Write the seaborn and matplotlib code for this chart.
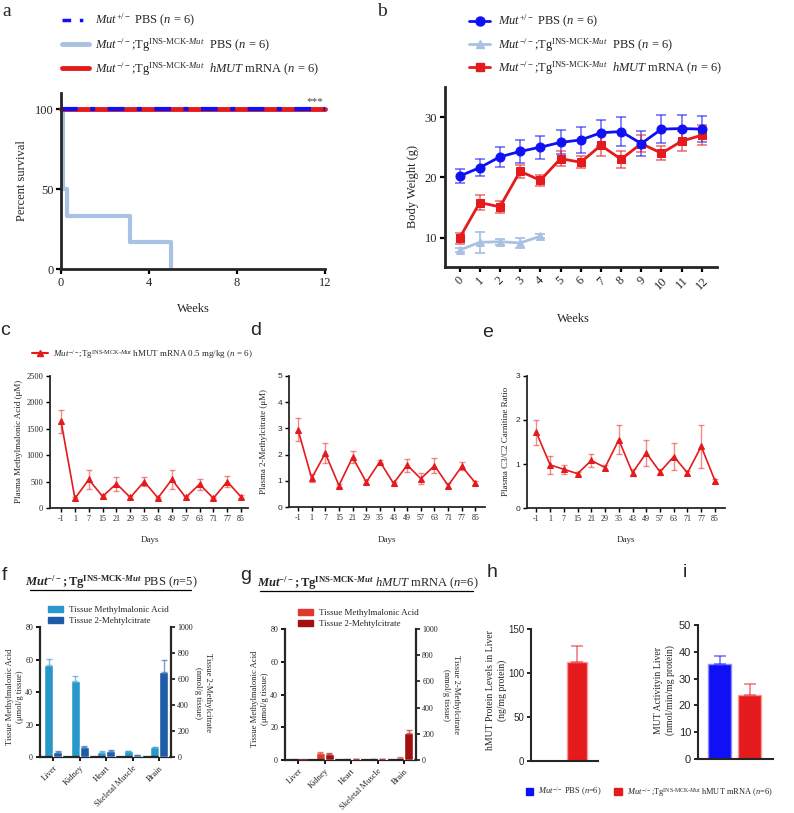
import numpy as np
import pandas as pd
import matplotlib
matplotlib.use('Agg')
import matplotlib.pyplot as plt
import seaborn as sns
from matplotlib.lines import Line2D
from matplotlib.patches import Patch
from matplotlib.transforms import Affine2D

sns.set_style('ticks')
plt.rcParams['font.family'] = ['Liberation Serif', 'DejaVu Serif']
plt.rcParams['mathtext.fontset'] = 'custom'
plt.rcParams['mathtext.rm'] = 'Liberation Serif'
plt.rcParams['mathtext.it'] = 'Liberation Serif:italic'
plt.rcParams['mathtext.bf'] = 'Liberation Serif:bold'
plt.rcParams['mathtext.bfit'] = 'Liberation Serif:italic:bold'

BLUE = '#1010f5'
RED = '#e41a1c'
LIGHTBLUE = '#a9c1e3'

# ---- data ----
# a: survival
surv_weeks = [0, 0.1, 0.25, 3.15, 5.0]
surv_ko_pbs = [100, 50, 33.3, 16.7, 0]
surv_full_weeks = [0, 12]
surv_full = [100, 100]

# b: body weight
bw_weeks = list(range(13))
bw_het = [20.2, 21.6, 23.4, 24.3, 25.0, 25.8, 26.2, 27.4, 27.6, 25.6, 28.0, 28.1, 28.0]
bw_het_err = [1.1, 1.4, 1.7, 1.9, 1.9, 2.0, 2.1, 2.2, 2.4, 2.1, 2.3, 2.2, 2.1]
bw_mrna = [9.9, 15.8, 15.1, 21.0, 19.5, 23.1, 22.5, 25.3, 23.0, 25.6, 24.0, 26.0, 27.0]
bw_mrna_err = [0.9, 1.2, 1.0, 1.1, 0.9, 1.2, 1.0, 1.7, 1.4, 1.4, 1.2, 1.7, 1.7]
bw_ko_weeks = [0, 1, 2, 3, 4]
bw_ko = [7.9, 9.2, 9.3, 9.1, 10.2]
bw_ko_err = [0.3, 1.7, 0.5, 0.8, 0.3]

# c-e: plasma markers
days = ['-1', '1', '7', '15', '21', '29', '35', '43', '49', '57', '63', '71', '77', '85']
mma_plasma = [1640, 180, 540, 220, 460, 200, 500, 190, 540, 200, 450, 185, 500, 210]
mma_plasma_err = [220, 20, 175, 30, 130, 25, 90, 20, 180, 25, 100, 20, 100, 30]
mc_plasma = [2.95, 1.1, 2.05, 0.82, 1.9, 0.95, 1.73, 0.9, 1.6, 1.08, 1.58, 0.82, 1.55, 0.92]
mc_plasma_err = [0.45, 0.15, 0.38, 0.05, 0.22, 0.07, 0.05, 0.05, 0.25, 0.22, 0.28, 0.08, 0.15, 0.08]
c3c2 = [1.72, 0.98, 0.88, 0.78, 1.08, 0.92, 1.55, 0.8, 1.25, 0.82, 1.17, 0.8, 1.4, 0.62]
c3c2_err = [0.28, 0.2, 0.1, 0.03, 0.15, 0.05, 0.33, 0.08, 0.3, 0.06, 0.3, 0.04, 0.48, 0.05]

# f-g: tissue levels
tissues = ['Liver', 'Kidney', 'Heart', 'Skeletal Muscle', 'Brain']
f_mma = [56.5, 47.0, 2.8, 3.5, 6.0]
f_mma_err = [3.8, 2.8, 0.6, 0.3, 0.3]
f_mc = [42, 80, 50, 12, 656]
f_mc_err = [5, 8, 6, 2, 90]
g_mma = [0.3, 4.5, 0.3, 0.5, 1.5]
g_mma_err = [0.1, 0.6, 0.1, 0.1, 0.3]
g_mc = [2, 45, 5, 8, 205]
g_mc_err = [1, 5, 1, 1, 25]

# h-i: liver protein and activity
groups = ['PBS', 'mRNA']
h_protein = [0, 113]
h_protein_err = [0, 18]
i_activity = [35.3, 23.7]
i_activity_err = [3.0, 4.1]

W, H = 794, 813
fig = plt.figure(figsize=(W / 100, H / 100), dpi=100)
PX = Affine2D().scale(1 / W, -1 / H).translate(0, 1) + fig.transFigure


def px_axes(left, top, right, bottom):
    return fig.add_axes([left / W, 1 - bottom / H, (right - left) / W, (bottom - top) / H])


def style(ax, lw=1.5, size=8, family='Liberation Serif', length=3.5):
    sns.despine(ax=ax)
    for s in ['left', 'bottom']:
        ax.spines[s].set_linewidth(lw)
    ax.tick_params(width=lw * 0.8, length=length, labelsize=size, color='black',
                   labelfontfamily=family, pad=2)


def ylab(ax, text, x, y, size, rot=90):
    ax.set_ylabel(text, fontsize=size, rotation=rot, linespacing=1.3)
    ax.yaxis.set_label_coords(x, y, transform=PX)


def xlab(ax, text, x, y, size):
    ax.set_xlabel(text, fontsize=size)
    ax.xaxis.set_label_coords(x, y, transform=PX)


def letter(ch, x, y, family='Liberation Sans'):
    fig.text(x, y, ch, transform=PX, fontsize=14, family=family, va='top', ha='left')


TG = r'$\it{Mut}^{-/-}$;Tg$^{\mathrm{INS‐MCK‐}\it{Mut}}$'
LBL_HET = r'$\it{Mut}^{+/-}$ PBS ($\it{n}$ = 6)'
LBL_KO = TG + r'  PBS ($\it{n}$ = 6)'
LBL_MRNA = TG + r'  $\it{hMUT}$ mRNA ($\it{n}$ = 6)'

# ---- a ----
ax = px_axes(61, 93, 325, 269)
sns.lineplot(x=surv_weeks, y=surv_ko_pbs, ax=ax, color=LIGHTBLUE, lw=3,
             drawstyle='steps-post', estimator=None, sort=False)
sns.lineplot(x=surv_full_weeks, y=surv_full, ax=ax, color=RED, lw=3.5,
             estimator=None, clip_on=False)
sns.lineplot(x=surv_full_weeks, y=surv_full, ax=ax, color=BLUE, lw=3,
             linestyle=(0, (4, 3, 1.2, 3)), estimator=None, clip_on=False)
ax.set_xlim(0, 12)
ax.set_ylim(0, 110)
ax.set_xticks([0, 4, 8, 12])
ax.set_yticks([0, 50, 100])
style(ax, lw=2, size=9)
ylab(ax, 'Percent survival', 28, 181, 9)
xlab(ax, 'Weeks', 193, 303, 9)
ax.text(11.55, 103, '***', fontsize=8, color='#444444', ha='center')
ax.legend(handles=[Line2D([], [], color=BLUE, lw=2.5, linestyle=(0, (2.5, 2.5, 1, 2.5))),
                   Line2D([], [], color=LIGHTBLUE, lw=3.5),
                   Line2D([], [], color=RED, lw=3.5)],
          labels=[LBL_HET, LBL_KO, LBL_MRNA], loc='upper left',
          bbox_to_anchor=(51 / W, 1 - 1 / H), bbox_transform=fig.transFigure,
          frameon=False, fontsize=9, handlelength=2.1, handletextpad=0.5, labelspacing=0.55)
letter('a', 2, 3, 'Liberation Serif')

# ---- b ----
ax = px_axes(445, 87, 717, 267)
for ys, es, col in [(bw_het, bw_het_err, BLUE), (bw_mrna, bw_mrna_err, RED)]:
    ax.errorbar(bw_weeks, ys, yerr=es, fmt='none', ecolor=col, alpha=0.55,
                capsize=3.5, elinewidth=1.3, capthick=1.3)
ax.errorbar(bw_ko_weeks, bw_ko, yerr=bw_ko_err, fmt='none', ecolor=LIGHTBLUE,
            capsize=3.5, elinewidth=1.3, capthick=1.3)
sns.lineplot(x=bw_ko_weeks, y=bw_ko, ax=ax, color=LIGHTBLUE, lw=2, marker='^',
             markersize=6, markeredgecolor=LIGHTBLUE)
sns.lineplot(x=bw_weeks, y=bw_mrna, ax=ax, color=RED, lw=2, marker='s',
             markersize=6, markeredgecolor=RED)
sns.lineplot(x=bw_weeks, y=bw_het, ax=ax, color=BLUE, lw=2, marker='o',
             markersize=6.5, markeredgecolor=BLUE)
ax.set_xlim(-0.72, 12.75)
ax.set_ylim(5.1, 35)
ax.set_xticks(bw_weeks)
ax.set_yticks([10, 20, 30])
style(ax, lw=2, size=9)
plt.setp(ax.get_xticklabels(), rotation=45)
ylab(ax, 'Body Weight (g)', 419, 186, 9)
xlab(ax, 'Weeks', 573, 313, 9)
ax.legend(handles=[Line2D([], [], color=BLUE, lw=2, marker='o', markersize=6.5),
                   Line2D([], [], color=LIGHTBLUE, lw=2, marker='^', markersize=6),
                   Line2D([], [], color=RED, lw=2, marker='s', markersize=6)],
          labels=[LBL_HET, LBL_KO, LBL_MRNA], loc='upper left',
          bbox_to_anchor=(458 / W, 1 - 2 / H), bbox_transform=fig.transFigure,
          frameon=False, fontsize=9, handlelength=1.7, handletextpad=0.6, labelspacing=0.45)
letter('b', 377, 3, 'Liberation Serif')


# ---- c, d, e ----
def plasma(box, vals, errs, xlim, ylim, yticks, tickfam):
    a = px_axes(*box)
    pos = list(range(len(days)))
    a.errorbar(pos, vals, yerr=errs, fmt='none', ecolor=RED, alpha=0.5,
               capsize=2.5, elinewidth=1, capthick=1)
    sns.lineplot(x=pos, y=vals, ax=a, color=RED, lw=1.2, marker='^', markersize=4.5,
                 markeredgecolor=RED)
    a.set_xlim(*xlim)
    a.set_ylim(*ylim)
    a.set_yticks(yticks)
    a.set_xticks(pos)
    a.set_xticklabels(days)
    style(a, lw=1.3, size=6, family=tickfam, length=3)
    a.tick_params(axis='x', labelfontfamily='Liberation Serif', labelsize=5.8)
    return a


ax = plasma((50, 376, 248, 508), mma_plasma, mma_plasma_err, (-0.8, 13.5), (0, 2500),
            [0, 500, 1000, 1500, 2000, 2500], 'Liberation Serif')
ylab(ax, 'Plasma Methylmalonic Acid (μM)', 23, 441, 6.5)
xlab(ax, 'Days', 150, 536, 6.5)
ax.legend(handles=[Line2D([], [], color=RED, lw=1.5, marker='^', markersize=5)],
          labels=[TG + r' hMUT mRNA 0.5 mg/kg ($\it{n}$ = 6)'], loc='center left',
          bbox_to_anchor=(24 / W, 1 - 354 / H), bbox_transform=fig.transFigure,
          frameon=False, fontsize=6.5, handlelength=1.8, handletextpad=0.5)
letter('c', 0, 322)

ax = plasma((289, 376, 485, 507), mc_plasma, mc_plasma_err, (-0.66, 13.7), (0, 5),
            [0, 1, 2, 3, 4, 5], 'Liberation Sans')
ylab(ax, 'Plasma 2-Methylcitrate (μM)', 268, 441, 6.5)
xlab(ax, 'Days', 387, 536, 6.5)
letter('d', 250, 322)

ax = plasma((527, 376, 725, 508), c3c2, c3c2_err, (-0.68, 13.73), (0, 3),
            [0, 1, 2, 3], 'Liberation Sans')
ylab(ax, 'Plasma C3/C2 Carnitine Ratio', 510, 441, 6.5)
xlab(ax, 'Days', 626, 536, 6.5)
letter('e', 482, 324)


# ---- f, g ----
def tissue(box, mma, mma_err, mc, mc_err, c_mma, c_mc):
    a = px_axes(*box)
    a2 = a.twinx()
    nan5 = [np.nan] * 5
    df1 = pd.DataFrame({'tissue': tissues * 2, 'kind': ['MMA'] * 5 + ['MC'] * 5,
                        'value': mma + nan5})
    df2 = pd.DataFrame({'tissue': tissues * 2, 'kind': ['MMA'] * 5 + ['MC'] * 5,
                        'value': nan5 + mc})
    pal = {'MMA': c_mma, 'MC': c_mc}
    sns.barplot(data=df1, x='tissue', y='value', hue='kind', hue_order=['MMA', 'MC'],
                palette=pal, width=0.68, errorbar=None, legend=False, ax=a, saturation=1)
    sns.barplot(data=df2, x='tissue', y='value', hue='kind', hue_order=['MMA', 'MC'],
                palette=pal, width=0.68, errorbar=None, legend=False, ax=a2, saturation=1)
    pos = np.arange(5)
    a.errorbar(pos - 0.17, mma, yerr=[[0] * 5, mma_err], fmt='none', ecolor=c_mma,
               alpha=0.6, capsize=2, elinewidth=1)
    a2.errorbar(pos + 0.17, mc, yerr=[[0] * 5, mc_err], fmt='none', ecolor=c_mc,
                alpha=0.6, capsize=2, elinewidth=1)
    for ax_ in (a, a2):
        ax_.set_xlim(-0.5, 4.45)
        ax_.set_xlabel('')
        ax_.set_ylabel('')
    a.set_ylim(0, 80)
    a.set_yticks([0, 20, 40, 60, 80])
    a2.set_ylim(0, 1000)
    a2.set_yticks([0, 200, 400, 600, 800, 1000])
    style(a, lw=1.6, size=5.8, length=3)
    a2.spines['top'].set_visible(False)
    a2.spines['right'].set_linewidth(1.6)
    a2.spines['left'].set_visible(False)
    a2.spines['bottom'].set_visible(False)
    a2.tick_params(width=1.3, length=3, labelsize=5.8, pad=1.5)
    a.set_xticks(pos)
    a.set_xticklabels(tissues, rotation=45, ha='right', rotation_mode='anchor', fontsize=6)
    return a, a2


def underline_title(text, cx, y, x0, x1):
    fig.text(cx, y, text, transform=PX, fontsize=9, ha='center', va='baseline')
    fig.add_artist(Line2D([x0 / W, x1 / W], [1 - (y + 4) / H, 1 - (y + 4) / H], color='black', lw=0.9))


ax, ax2 = tissue((40, 627, 171, 757), f_mma, f_mma_err, f_mc, f_mc_err, '#2898cb', '#1e5ca7')
ylab(ax, 'Tissue Methylmalonic Acid\n(μmol/g tissue)', 24, 697, 6.2)
ylab(ax2, 'Tissue 2-Methylcitrate\n(nmol/g tissue)', 212, 693, 6.2, rot=270)
ax.legend(handles=[Patch(color='#2898cb'), Patch(color='#1e5ca7')],
          labels=['Tissue Methylmalonic Acid', 'Tissue 2-Mehtylcitrate'], loc='upper left',
          bbox_to_anchor=(40 / W, 1 - 598 / H), bbox_transform=fig.transFigure,
          frameon=False, fontsize=6.5, handlelength=1.7, handleheight=0.7,
          handletextpad=0.6, labelspacing=0.25)
underline_title(r'$\mathbfit{Mut}^{\mathbf{-/-}}\mathbf{;Tg}^{\mathbf{INS‐MCK‐}\mathbfit{Mut}}$ PBS ($\it{n}$=5)',
                111, 586, 30, 191)
letter('f', 2, 567)

ax, ax2 = tissue((285, 629, 416, 760), g_mma, g_mma_err, g_mc, g_mc_err, '#e0382a', '#a30f10')
ylab(ax, 'Tissue Methylmalonic Acid\n(μmol/g tissue)', 269, 699, 6.2)
ylab(ax2, 'Tissue 2-Methylcitrate\n(nmol/g tissue)', 460, 695, 6.2, rot=270)
ax.legend(handles=[Patch(color='#e0382a'), Patch(color='#a30f10')],
          labels=['Tissue Methylmalonic Acid', 'Tissue 2-Mehtylcitrate'], loc='upper left',
          bbox_to_anchor=(290 / W, 1 - 601 / H), bbox_transform=fig.transFigure,
          frameon=False, fontsize=6.5, handlelength=1.7, handleheight=0.7,
          handletextpad=0.6, labelspacing=0.25)
underline_title(r'$\mathbfit{Mut}^{\mathbf{-/-}}\mathbf{;Tg}^{\mathbf{INS‐MCK‐}\mathbfit{Mut}}$ $\it{hMUT}$ mRNA ($\it{n}$=6)',
                368, 587, 260, 473)
letter('g', 240, 567)


# ---- h, i ----
def liver_bar(box, vals, errs, xlim, ylim, yticks, width, size):
    a = px_axes(*box)
    df = pd.DataFrame({'group': groups, 'value': vals})
    sns.barplot(data=df, x='group', y='value', hue='group', palette=[BLUE, RED],
                width=width, errorbar=None, legend=False, ax=a, saturation=1)
    for p, ec in zip(a.patches, ['#8c8cff', '#f49a9a']):
        p.set_edgecolor(ec)
        p.set_linewidth(1)
    for x, v, e, col in zip(range(2), vals, errs, [BLUE, RED]):
        if e > 0:
            a.errorbar([x], [v], yerr=[[0], [e]], fmt='none', ecolor=col, alpha=0.6,
                       capsize=4, elinewidth=1.1, capthick=1.1)
    a.set_xlim(*xlim)
    a.set_ylim(*ylim)
    a.set_yticks(yticks)
    a.set_xticks([])
    a.set_xlabel('')
    style(a, lw=1.5, size=size, family='Liberation Sans', length=3)
    return a


ax = liver_bar((531, 629, 598, 761), h_protein, h_protein_err, (-0.53, 1.7), (0, 150),
               [0, 50, 100, 150], 0.64, 7)
ylab(ax, 'hMUT Protein Levels in Liver\n(ng/mg protein)', 507, 690, 7)
letter('h', 487, 564)

ax = liver_bar((698, 625, 773, 759), i_activity, i_activity_err, (-0.73, 1.77), (0, 50),
               [0, 10, 20, 30, 40, 50], 0.77, 8)
ylab(ax, 'MUT Activityin Liver\n(nmol/min/mg protein)', 675, 690, 7)
letter('i', 683, 564)

fig.legend(handles=[Patch(color=BLUE), Patch(color=RED)],
           labels=[r'$\it{Mut}^{-/-}$ PBS ($\it{n}$=6)', TG + r' hMUT mRNA ($\it{n}$=6)'],
           loc='center left', bbox_to_anchor=(518 / W, 1 - 792 / H), ncol=2,
           frameon=False, fontsize=6, handlelength=0.9, handleheight=0.9,
           handletextpad=0.6, columnspacing=1.5)

fig.savefig('out.png', dpi=100, facecolor='white')
